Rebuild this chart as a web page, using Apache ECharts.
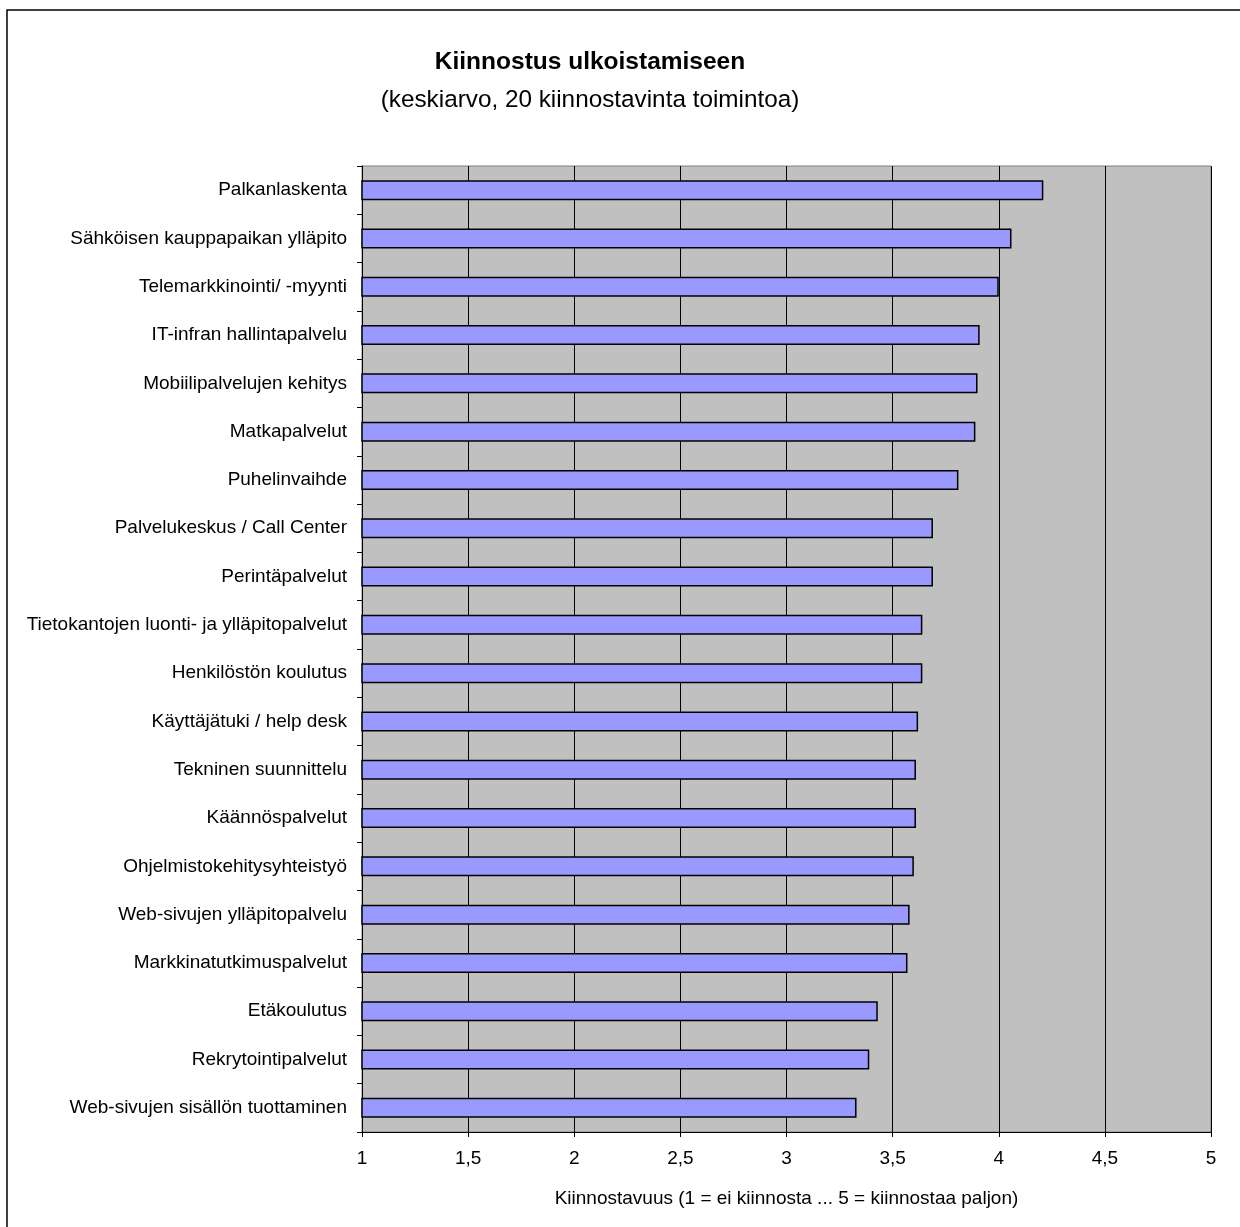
<!DOCTYPE html>
<html>
<head>
<meta charset="utf-8">
<script src="https://cdn.jsdelivr.net/npm/echarts@6/dist/echarts.min.js"></script>
<style>
html,body{margin:0;padding:0;background:#fff;}
#chart{width:1240px;height:1227px;}
</style>
</head>
<body>
<div id="chart"></div>
<script>
const categories = [
  "Palkanlaskenta",
  "Sähköisen kauppapaikan ylläpito",
  "Telemarkkinointi/ -myynti",
  "IT-infran hallintapalvelu",
  "Mobiilipalvelujen kehitys",
  "Matkapalvelut",
  "Puhelinvaihde",
  "Palvelukeskus / Call Center",
  "Perintäpalvelut",
  "Tietokantojen luonti- ja ylläpitopalvelut",
  "Henkilöstön koulutus",
  "Käyttäjätuki / help desk",
  "Tekninen suunnittelu",
  "Käännöspalvelut",
  "Ohjelmistokehitysyhteistyö",
  "Web-sivujen ylläpitopalvelu",
  "Markkinatutkimuspalvelut",
  "Etäkoulutus",
  "Rekrytointipalvelut",
  "Web-sivujen sisällön tuottaminen"
];
const values = [4.21, 4.06, 4.00, 3.91, 3.90, 3.89, 3.81, 3.69, 3.69, 3.64, 3.64, 3.62, 3.61, 3.61, 3.60, 3.58, 3.57, 3.43, 3.39, 3.33];
const xTicks = [1, 1.5, 2, 2.5, 3, 3.5, 4, 4.5, 5];
const titleText = "Kiinnostus ulkoistamiseen";
const subtitleText = "(keskiarvo, 20 kiinnostavinta toimintoa)";
const xAxisName = "Kiinnostavuus (1 = ei kiinnosta ... 5 = kiinnostaa paljon)";

const FONT = "Arial, 'Liberation Sans', Helvetica, sans-serif";
const chart = echarts.init(document.getElementById('chart'), null, {renderer: 'canvas'});
chart.setOption({
  backgroundColor: '#ffffff',
  animation: false,
  title: {
    text: titleText,
    subtext: subtitleText,
    left: 590,
    top: 50,
    textAlign: 'center',
    padding: 0,
    itemGap: 13,
    textStyle: {fontFamily: FONT, fontSize: 24.5, fontWeight: 'bold', color: '#000'},
    subtextStyle: {fontFamily: FONT, fontSize: 24.3, color: '#000'}
  },
  graphic: [{
    type: 'rect',
    shape: {x: 7, y: 10, width: 1240, height: 1240},
    style: {fill: 'none', stroke: '#000', lineWidth: 1.5},
    silent: true
  }],
  grid: {
    left: 362, right: 29, top: 166, bottom: 95,
    show: true,
    backgroundColor: '#C0C0C0',
    borderColor: '#808080',
    borderWidth: 1,
    containLabel: false,
    outerBoundsMode: 'none'
  },
  xAxis: {
    type: 'value',
    min: 1, max: 5, interval: 0.5,
    name: xAxisName,
    nameLocation: 'middle',
    nameGap: 57,
    nameTextStyle: {fontFamily: FONT, fontSize: 19, color: '#000'},
    axisLine: {show: true, lineStyle: {color: '#000', width: 1}},
    axisTick: {show: true, length: 5, lineStyle: {color: '#000'}},
    axisLabel: {
      fontFamily: FONT, fontSize: 19, color: '#000', margin: 17,
      formatter: v => xTicks.includes(v) ? String(v).replace('.', ',') : ''
    },
    splitLine: {show: true, lineStyle: {color: '#000', width: 1}}
  },
  yAxis: {
    type: 'category',
    data: categories,
    inverse: true,
    axisLine: {show: true, lineStyle: {color: '#000', width: 1}},
    axisTick: {show: true, length: 5, lineStyle: {color: '#000'}},
    axisLabel: {fontFamily: FONT, fontSize: 19, color: '#000', margin: 15},
    splitLine: {show: false}
  },
  series: [{
    type: 'bar',
    data: values,
    barWidth: 20,
    itemStyle: {color: '#9999FF', borderColor: '#000', borderWidth: 1.5},
    emphasis: {disabled: true}
  }]
});
</script>
</body>
</html>
